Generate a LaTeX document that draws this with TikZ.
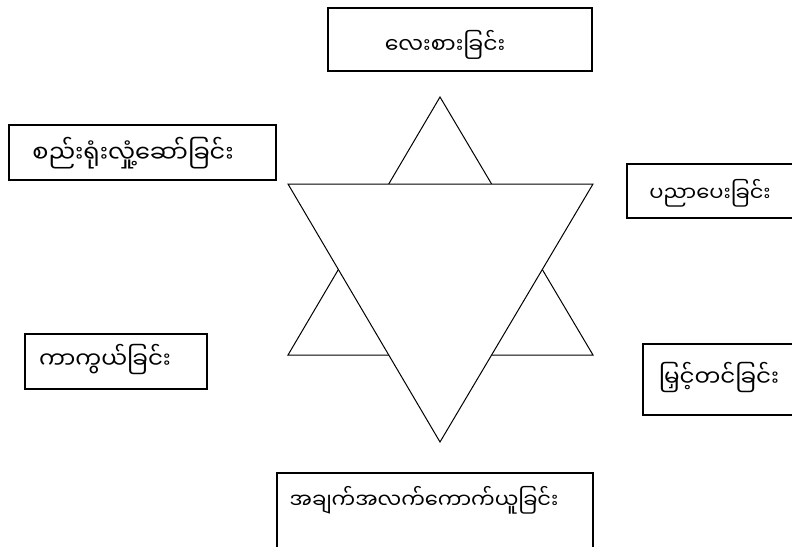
\documentclass[tikz,border=0pt]{standalone}
\usepackage{fontspec}
\newfontfamily\mmfont[Script=Myanmar]{Noto Sans Myanmar UI}
\tikzset{
  box/.style={draw,line width=1.3pt},
  star/.style={draw,line width=1pt,line join=miter,fill=white},
  lbl/.style={font=\mmfont\fontsize{21}{25}\selectfont,inner sep=0pt}
}

\begin{document}
\begin{tikzpicture}[x=1pt,y=-1pt]
  \useasboundingbox (0,0) rectangle (792,546);
  \clip (0,0) rectangle (792,546);
  % star of two triangles
  \draw[star] (440,97) -- (288,355) -- (593,355) -- cycle;
  \draw[star] (288,184) -- (593,184) -- (440,442) -- cycle;
  % boxes
  \draw[box] (328,8) rectangle (592,71);
  \draw[box] (9,125) rectangle (276,180);
  \draw[box] (627,164) rectangle (800,218);
  \draw[box] (25,334) rectangle (207,389);
  \draw[box] (643,344) rectangle (800,415);
  \draw[box] (277,473) rectangle (593,560);
  % labels
  \node[lbl,font=\mmfont\fontsize{22}{26}\selectfont] (respect) at (445,45) {လေးစားခြင်း};
  \node[lbl,font=\mmfont\fontsize{24}{28}\selectfont] (mobilize) at (133,153) {စည်းရုံးလှုံ့ဆော်ခြင်း};
  \node[lbl] (educate) at (710,193) {ပညာပေးခြင်း};
  \node[lbl,font=\mmfont\fontsize{23}{27}\selectfont] (protect) at (105,360) {ကာကွယ်ခြင်း};
  \node[lbl,font=\mmfont\fontsize{23}{27}\selectfont] (promote) at (719,378) {မြှင့်တင်ခြင်း};
  \node[lbl] (collect) at (424,500) {အချက်အလက်ကောက်ယူခြင်း};
\end{tikzpicture}
\end{document}
